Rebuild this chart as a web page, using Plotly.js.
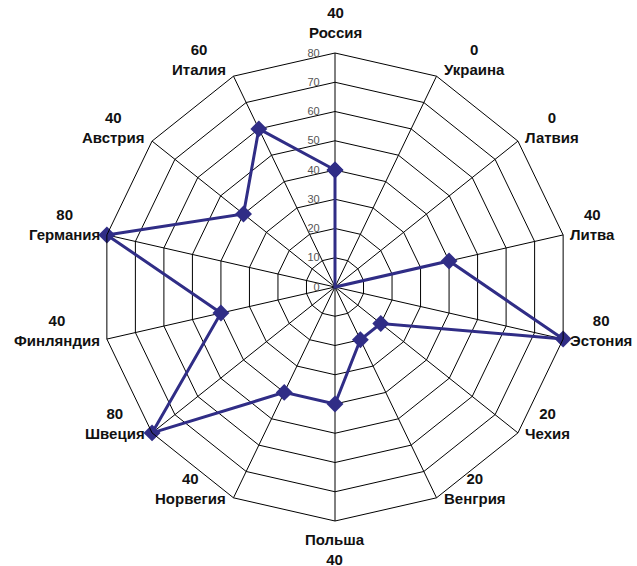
<!DOCTYPE html>
<html>
<head>
<meta charset="utf-8">
<script src="https://cdn.plot.ly/plotly-3.0.1.min.js"></script>
<style>html,body{margin:0;padding:0;background:#fff;}</style>
</head>
<body>
<div id="chart" style="width:637px;height:566px;"></div>
<script>
// Categories, clockwise from the top
const countries = ['Россия','Украина','Латвия','Литва','Эстония','Чехия','Венгрия',
                   'Польша','Норвегия','Швеция','Финляндия','Германия','Австрия','Италия'];
const values = [40, 0, 0, 40, 80, 20, 20, 40, 40, 80, 40, 80, 40, 60];
const radialTicks = [0, 10, 20, 30, 40, 50, 60, 70, 80];

const W = 637, H = 566;
const margin = {l: 101, r: 68, t: 53, b: 45, pad: 0};
const lineColor = '#302d86';

// Close the polygon by repeating the first point
const rClosed = values.concat([values[0]]);
const thetaClosed = countries.concat([countries[0]]);

const trace = {
  type: 'scatterpolar',
  mode: 'lines+markers',
  r: rClosed,
  theta: thetaClosed,
  line: {color: lineColor, width: 3},
  marker: {symbol: 'diamond', size: 13, color: lineColor},
  hoverinfo: 'skip',
  cliponaxis: false,
  showlegend: false
};

// Value + name labels outside each polygon vertex, placed from the polar geometry
const n = countries.length;
const annotations = countries.map((name, k) => {
  const a = k * 2 * Math.PI / n;
  const s = Math.sin(a), c = Math.cos(a);
  const ann = {
    xref: 'paper', yref: 'paper',
    x: 0.5 + 0.5 * s, y: 0.5 + 0.5 * c,
    showarrow: false, align: 'center',
    font: {family: 'Liberation Sans, Arial, sans-serif', size: 15, color: '#111'},
    text: '<b>' + values[k] + '</b><br><b>' + name + '</b>'
  };
  if (Math.abs(s) < 1e-6) {
    ann.xanchor = 'center';
    if (c > 0) { ann.yanchor = 'bottom'; ann.yshift = 10; }
    else {
      ann.yanchor = 'top'; ann.yshift = -8;
      ann.text = '<b>' + name + '</b><br><b>' + values[k] + '</b>';
    }
  } else {
    ann.yanchor = 'middle';
    ann.yshift = 9 + (c > 0 ? 8 * c : 0);
    if (s > 0) { ann.xanchor = 'left'; ann.xshift = 5; }
    else { ann.xanchor = 'right'; ann.xshift = -5; }
  }
  return ann;
});

const layout = {
  width: W, height: H,
  margin: margin,
  paper_bgcolor: '#fff',
  showlegend: false,
  annotations: annotations,
  polar: {
    bgcolor: '#fff',
    gridshape: 'linear',
    domain: {x: [0, 1], y: [0, 1]},
    angularaxis: {
      type: 'category',
      categoryorder: 'array',
      categoryarray: countries,
      direction: 'clockwise',
      rotation: 90,
      showline: true, linecolor: '#000', linewidth: 1,
      showgrid: true, gridcolor: '#000', gridwidth: 1,
      ticks: '', showticklabels: false
    },
    radialaxis: {
      range: [0, 80],
      angle: 90,
      tickangle: 90,
      tickvals: radialTicks,
      ticktext: radialTicks.map(String),
      side: 'counterclockwise',
      showline: false,
      showgrid: true, gridcolor: '#000', gridwidth: 1,
      ticks: 'outside', ticklen: 11, tickcolor: 'rgba(0,0,0,0)',
      tickfont: {family: 'Liberation Sans, Arial, sans-serif', size: 11, color: '#555'}
    }
  }
};

Plotly.newPlot('chart', [trace], layout, {staticPlot: true, displayModeBar: false});
</script>
</body>
</html>
